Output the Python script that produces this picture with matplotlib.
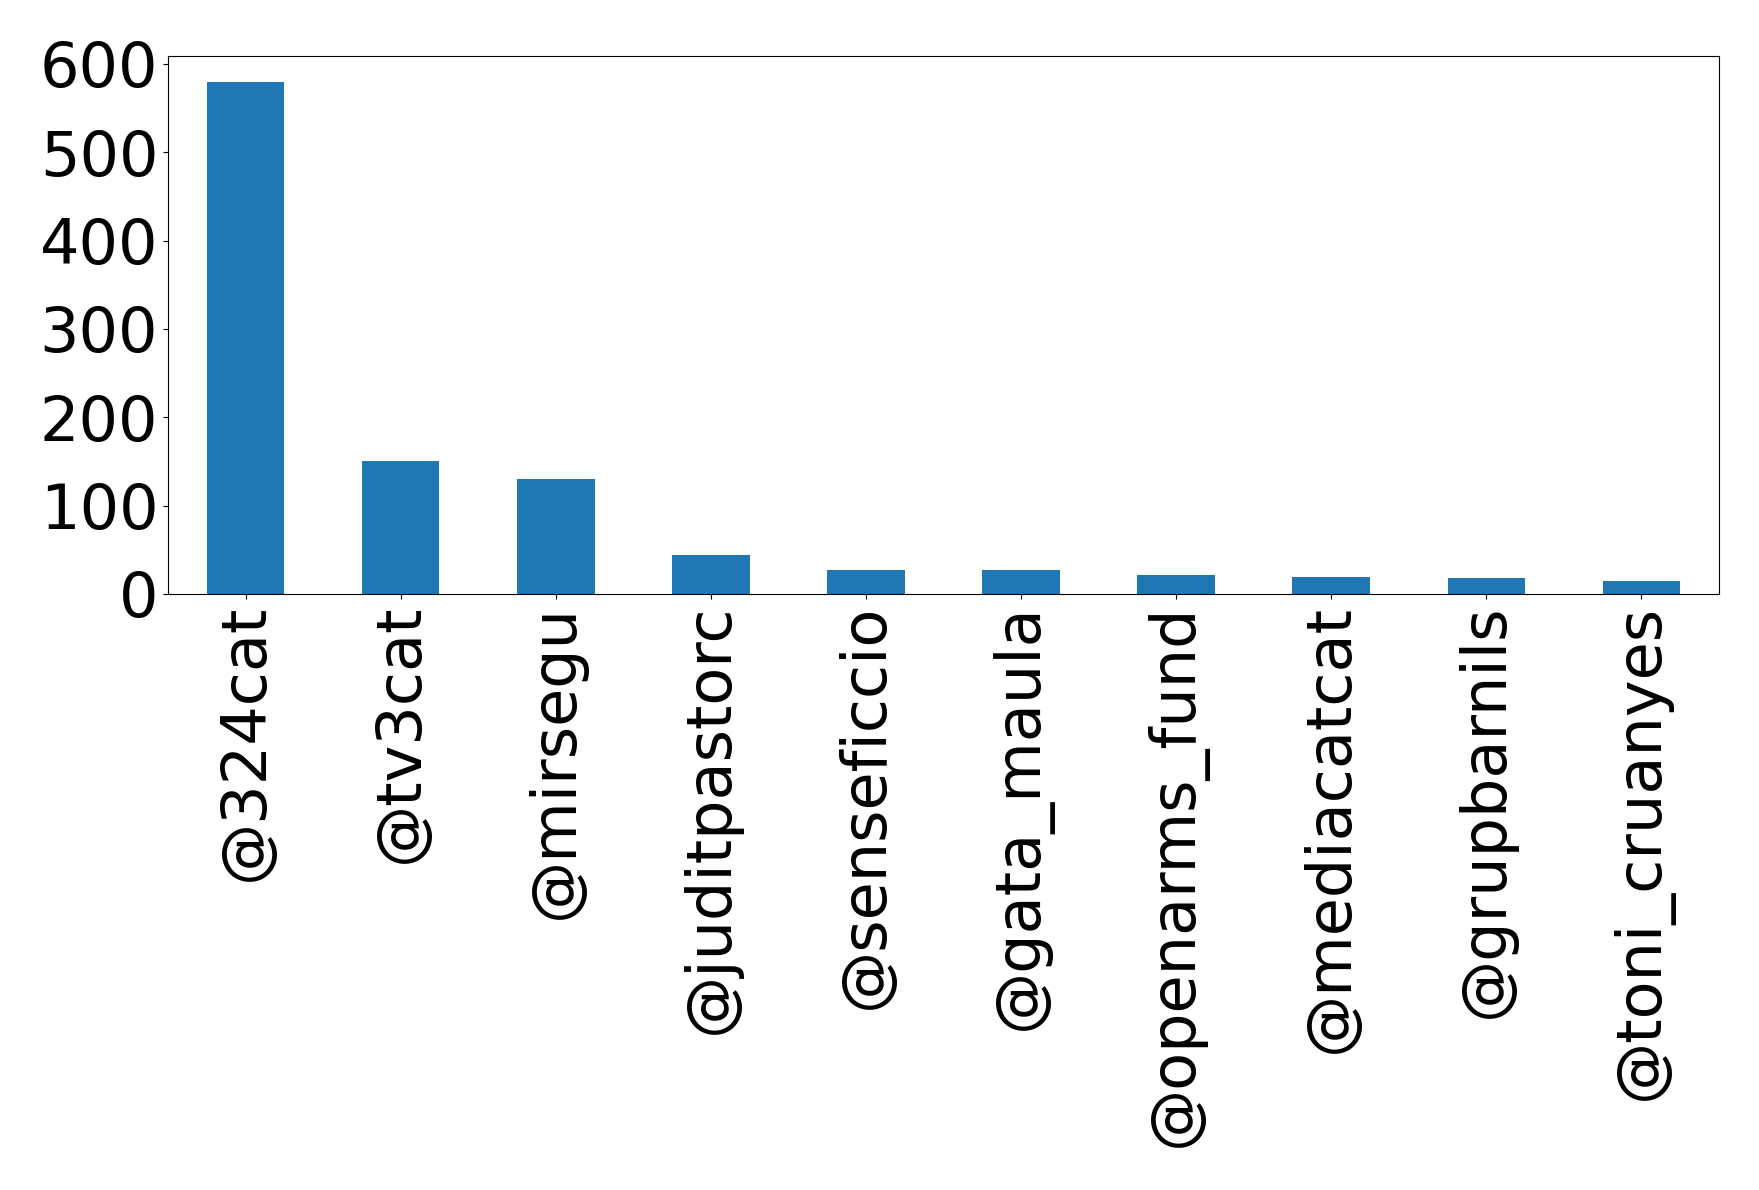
import matplotlib
matplotlib.use("Agg")
import matplotlib.pyplot as plt
import numpy as np

users = ["@324cat", "@tv3cat", "@mirsegu", "@juditpastorc", "@senseficcio",
         "@gata_maula", "@openarms_fund", "@mediacatcat", "@grupbarnils", "@toni_cruanyes"]
counts = [580, 150, 130, 44, 27, 27, 21, 19, 18, 15]

W, H = 1759, 1190
fig = plt.figure(figsize=(W / 100, H / 100), dpi=100)
left, right, top, bottom = 168, 1719, 56, 594
ax = fig.add_axes([left / W, 1 - bottom / H, (right - left) / W, (bottom - top) / H])
x = np.arange(len(users))
ax.bar(x, counts, width=0.5, color="#1f77b4")
ax.set_xlim(-0.5, len(users) - 0.5)
ax.set_ylim(0, 609)
ax.set_yticks([0, 100, 200, 300, 400, 500, 600])
ax.set_xticks(x)
ax.set_xticklabels(users, rotation=90)
ax.tick_params(axis="both", labelsize=44.7)
fig.savefig("out.png", dpi=100)
